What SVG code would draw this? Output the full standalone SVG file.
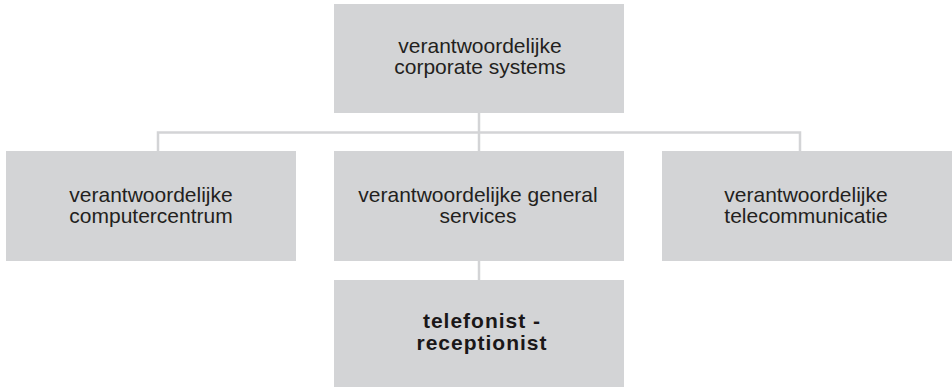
<svg xmlns="http://www.w3.org/2000/svg" width="952" height="387" viewBox="0 0 952 387">
<style>
.box{fill:#d3d4d6}
.t{font-family:"Liberation Sans",Arial,Helvetica,sans-serif;font-size:21px;fill:#231f20;text-anchor:middle}
.b{font-family:"Liberation Sans",Arial,Helvetica,sans-serif;font-size:21px;font-weight:bold;fill:#1a1718;letter-spacing:1px;text-anchor:middle}
.c{fill:none;stroke:#d3d4d6;stroke-width:2.5}
</style>
<rect width="952" height="387" fill="#ffffff"/>
<g id="connectors">
<line class="c" x1="479" y1="113" x2="479" y2="151"/>
<polyline class="c" points="158,151 158,132.5 800,132.5 800,151"/>
<line class="c" x1="479" y1="261" x2="479" y2="280"/>
</g>
<g id="corporate-systems">
<rect class="box" x="334" y="4" width="290" height="109"/>
<text class="t" x="480" y="53">verantwoordelijke</text>
<text class="t" x="480" y="74">corporate systems</text>
</g>
<g id="computercentrum">
<rect class="box" x="6" y="151" width="290" height="110"/>
<text class="t" x="151" y="202">verantwoordelijke</text>
<text class="t" x="151" y="223">computercentrum</text>
</g>
<g id="general-services">
<rect class="box" x="334" y="151" width="290" height="110"/>
<text class="t" x="478" y="202">verantwoordelijke general</text>
<text class="t" x="478" y="223">services</text>
</g>
<g id="telecommunicatie">
<rect class="box" x="662" y="151" width="290" height="110"/>
<text class="t" x="806" y="202">verantwoordelijke</text>
<text class="t" x="806" y="223">telecommunicatie</text>
</g>
<g id="telefonist-receptionist">
<rect class="box" x="334" y="280" width="290" height="107"/>
<text class="b" x="482" y="328">telefonist -</text>
<text class="b" x="482" y="350">receptionist</text>
</g>
</svg>
